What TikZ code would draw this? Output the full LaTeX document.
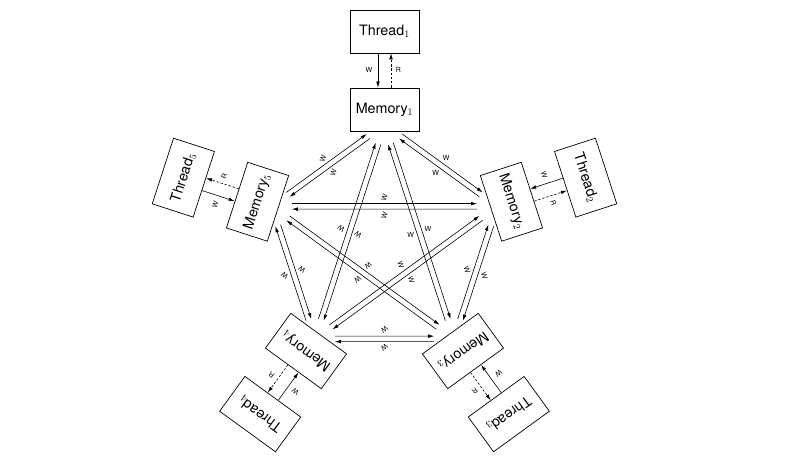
\documentclass[tikz,border=0pt]{standalone}
\usepackage{fontspec}
\setmainfont{TeX Gyre Heros}
\usetikzlibrary{calc,arrows.meta}
\begin{document}
\begin{tikzpicture}[x=1pt,y=1pt,
  box/.style={draw, line width=0.7pt, minimum width=69pt, minimum height=43pt, inner sep=0pt, font=\fontsize{14.3}{17}\selectfont},
  lab/.style={font=\fontsize{7}{8}\selectfont, inner sep=0pt},
  arr/.style={line width=0.6pt, -{Latex[length=6pt,width=3.6pt]}},
  rarr/.style={arr, dash pattern=on 2.4pt off 1.8pt},
  marr/.style={arr, shorten <=20pt, shorten >=20pt},
]
\useasboundingbox (-384.5,-229) rectangle (408.5,243);
\foreach \i in {1,...,5}{
  \pgfmathsetmacro\th{90-72*(\i-1)}
  \coordinate (p\i) at (\th:118.5);
}
\foreach \i in {1,...,5}{
  \pgfmathsetmacro\rot{-72*(\i-1)}
  \begin{scope}[rotate=\rot, transform shape]
    \node[box] (m\i) at (0,133.5) {Memory$_{\i}$};
    \node[box] (t\i) at (0,211.5) {Thread$_{\i}$};
    \draw[arr] ($(t\i.south)!6.5pt!(t\i.south west)$) -- ($(m\i.north)!6.5pt!(m\i.north west)$);
    \draw[rarr] ($(m\i.north)!6.5pt!(m\i.north east)$) -- ($(t\i.south)!6.5pt!(t\i.south east)$);
    \node[lab] (wl\i) at (-15.5,173) {W};
    \node[lab] (rl\i) at (14,173) {R};
  \end{scope}
}
\foreach \i in {1,...,5}{
  \pgfmathtruncatemacro\ja{mod(\i,5)+1}
  \pgfmathtruncatemacro\jb{mod(\i+1,5)+1}
  \pgfmathsetmacro\rot{-72*(\i-1)}
  \begin{scope}[rotate=\rot, transform shape]
    \foreach \j in {\ja,\jb}{
      \draw[marr] ($(p\i)!2.75pt!90:(p\j)$) -- ($(p\j)!2.75pt!-90:(p\i)$);
      \draw[marr] ($(p\j)!2.75pt!90:(p\i)$) -- ($(p\i)!2.75pt!-90:(p\j)$);
      \coordinate (c\i\j) at ($(p\i)!0.5!(p\j)$);
      \node[lab] (la\i\j) at ($(c\i\j)!9pt!90:(p\j)$) {W};
      \node[lab] (lb\i\j) at ($(c\i\j)!9pt!-90:(p\j)$) {W};
    }
  \end{scope}
}
\end{tikzpicture}
\end{document}
